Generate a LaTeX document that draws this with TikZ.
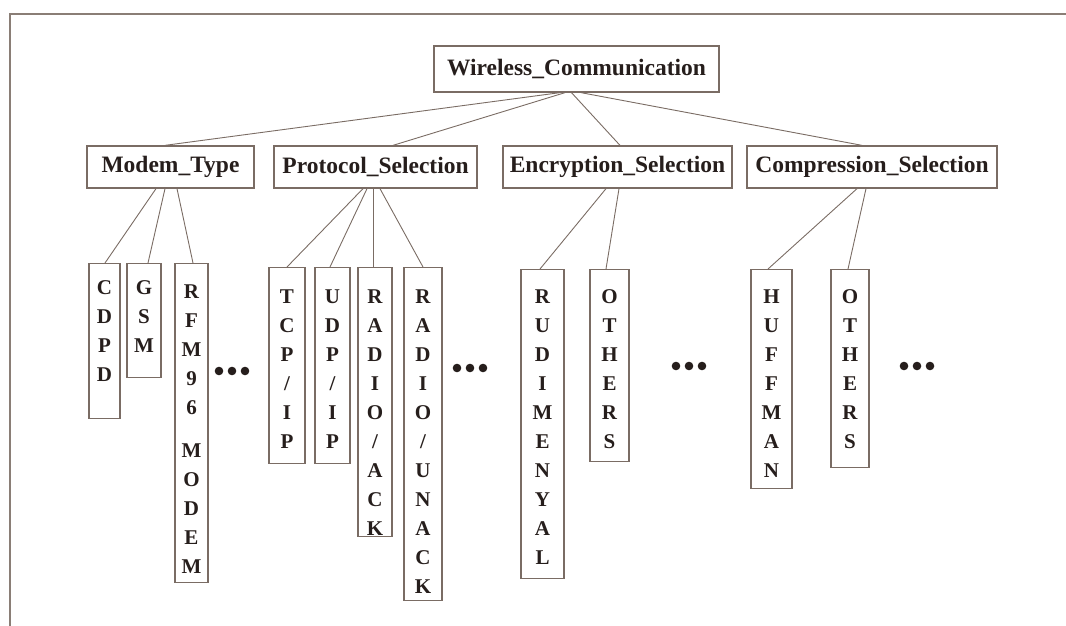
\documentclass[tikz,border=0pt]{standalone}
\usepackage{fontspec}
\setmainfont{Liberation Serif}

\definecolor{edge}{RGB}{122,108,100}
\definecolor{rim}{RGB}{138,126,118}
\definecolor{ink}{RGB}{38,30,28}

% vertical stack of letters, top aligned, total height #1, first baseline at #2
\newcommand\letterstack[3]{\parbox[t][#1][t]{24pt}{\centering\fontsize{21}{29}\selectfont\bfseries\rule{0pt}{#2}#3}}

\tikzset{
  header/.style={draw=edge, line width=1.3pt, inner sep=0pt, text=ink,
                 font=\fontsize{23.5}{23.5}\selectfont\bfseries},
  leafbox/.style={draw=edge, line width=1.3pt, inner sep=0pt, anchor=north,
                  text=ink, font=\bfseries},
  link/.style={draw=edge, line width=0.9pt},
  frame/.style={draw=rim, line width=1.6pt},
}

\begin{document}
\begin{tikzpicture}[x=1pt, y=-1pt]
\useasboundingbox (0,0) rectangle (1066,626);

% outer frame (top and left edges)
\draw[frame] (10,626) -- (10,14) -- (1066,14);

% root and category boxes
\node[header, minimum width=285pt, minimum height=46pt] (root) at (576.5,69) {Wireless\_Communication};
\node[header, minimum width=167pt, minimum height=42pt] (modem) at (170.5,167) {Modem\_Type};
\node[header, minimum width=203pt, minimum height=42pt] (proto) at (375.5,167) {Protocol\_Selection};
\node[header, minimum width=229pt, minimum height=42pt] (encr)  at (617.5,167) {Encryption\_Selection};
\node[header, minimum width=250pt, minimum height=42pt] (compr) at (872,167)   {Compression\_Selection};

% modem types
\node[leafbox, minimum width=31pt] (cdpd) at (104.5,263) {\letterstack{155pt}{31pt}{C\\D\\P\\D}};
\node[leafbox, minimum width=34pt] (gsm)  at (144,263)   {\letterstack{114pt}{31pt}{G\\S\\M}};
\node[leafbox, minimum width=33pt] (rfm)  at (191.5,263) {\letterstack{319pt}{35pt}{R\\F\\M\\9\\6\\[14pt]M\\O\\D\\E\\M}};

% protocols
\node[leafbox, minimum width=36pt] (tcp)   at (287,267)   {\letterstack{196pt}{36pt}{T\\C\\P\\/\\I\\P}};
\node[leafbox, minimum width=35pt] (udp)   at (332.5,267) {\letterstack{196pt}{36pt}{U\\D\\P\\/\\I\\P}};
\node[leafbox, minimum width=34pt] (rack)  at (375,267)   {\letterstack{269pt}{36pt}{R\\A\\D\\I\\O\\/\\A\\C\\K}};
\node[leafbox, minimum width=38pt] (runack) at (423,267)  {\letterstack{333pt}{36pt}{R\\A\\D\\I\\O\\/\\U\\N\\A\\C\\K}};

% encryption
\node[leafbox, minimum width=43pt] (rud)  at (542.5,269) {\letterstack{309pt}{34pt}{R\\U\\D\\I\\M\\E\\N\\Y\\A\\L}};
\node[leafbox, minimum width=39pt] (oth1) at (609.5,269) {\letterstack{192pt}{34pt}{O\\T\\H\\E\\R\\S}};

% compression
\node[leafbox, minimum width=41pt] (huff) at (771.5,269) {\letterstack{219pt}{34pt}{H\\U\\F\\F\\M\\A\\N}};
\node[leafbox, minimum width=38pt] (oth2) at (850,269)   {\letterstack{198pt}{34pt}{O\\T\\H\\E\\R\\S}};

% root to categories
\draw[link] ([xshift=-16.5pt]root.south) -- ([xshift=-5.5pt]modem.north);
\draw[link] ([xshift=-11.5pt]root.south) -- ([xshift=17.5pt]proto.north);
\draw[link] ([xshift=-5pt]root.south)    -- ([xshift=2.5pt]encr.north);
\draw[link] ([xshift=4.5pt]root.south)   -- ([xshift=-10pt]compr.north);

% categories to options
\draw[link] ([xshift=-14.5pt]modem.south) -- ([xshift=0.5pt]cdpd.north);
\draw[link] ([xshift=-5.5pt]modem.south)  -- ([xshift=4pt]gsm.north);
\draw[link] ([xshift=6.5pt]modem.south)   -- ([xshift=1.5pt]rfm.north);

\draw[link] ([xshift=-12.5pt]proto.south) -- (tcp.north);
\draw[link] ([xshift=-8.5pt]proto.south)  -- ([xshift=-2.5pt]udp.north);
\draw[link] ([xshift=-2.5pt]proto.south)  -- ([xshift=-2pt]rack.north);
\draw[link] ([xshift=4.5pt]proto.south)   -- (runack.north);

\draw[link] ([xshift=-11.5pt]encr.south) -- ([xshift=-2.5pt]rud.north);
\draw[link] ([xshift=1.5pt]encr.south)   -- ([xshift=-3.5pt]oth1.north);

\draw[link] ([xshift=-15pt]compr.south) -- ([xshift=-3.5pt]huff.north);
\draw[link] ([xshift=-6pt]compr.south)  -- ([xshift=-2pt]oth2.north);

% continuation marks
\foreach \cx/\cy in {232/371, 470/368, 689/366, 917/366}
  \foreach \d in {-13,0,13}
    \fill[ink] (\cx+\d,\cy) circle (4.3);
\end{tikzpicture}
\end{document}
